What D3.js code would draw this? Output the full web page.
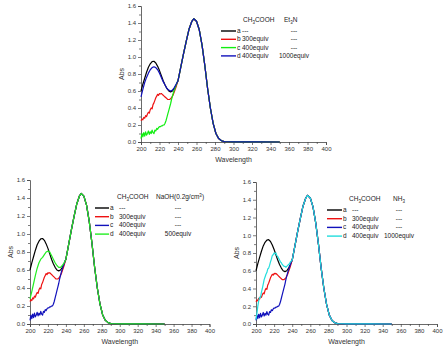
<!DOCTYPE html>
<html>
<head>
<meta charset="utf-8">
<script src="https://cdn.jsdelivr.net/npm/d3@7"></script>
<style>
  body { margin: 0; background: #fff; }
  svg { display: block; font-family: "Liberation Sans", Arial, sans-serif; }
</style>
</head>
<body>
<div id="chart"></div>
<script>
// Wavelength grids (nm)
const wlSmooth = [200, 202, 204, 206, 208, 210, 212, 214, 216, 218, 220, 222, 224, 226, 228, 230, 232, 234, 236, 238];
const wlNoisy = [200, 201, 202, 203, 204, 205, 206, 207, 208, 209, 210, 211, 212, 213, 214, 215, 216, 217, 218, 219,
                 220, 221, 222, 223, 224, 225, 226, 227, 228, 229, 230, 231, 232, 233, 234, 235, 236, 237, 238, 239];

// Main band shared by all spectra (240 nm onwards)
const tailWl = [240, 243, 246, 249, 252, 255, 257, 260, 263, 266, 269, 272, 275, 278, 281, 284, 287, 290, 295, 300, 325, 350];
const tailAbs = [0.72, 0.88, 1.04, 1.19, 1.33, 1.42, 1.45, 1.42, 1.32, 1.14, 0.9, 0.63, 0.4, 0.22, 0.1, 0.04, 0.015, 0.005, 0.003, 0.002, 0.001, 0.0];

// a: no additive
const absA = [0.6, 0.68, 0.75, 0.82, 0.88, 0.92, 0.945, 0.95, 0.93, 0.89, 0.84, 0.78, 0.72, 0.67, 0.63, 0.6, 0.59, 0.6, 0.63, 0.67];
// b: 300equiv CH3COOH
const absB = [0.25, 0.27, 0.26, 0.29, 0.28, 0.31, 0.3, 0.33, 0.35, 0.34, 0.38, 0.4, 0.39, 0.44, 0.46, 0.49, 0.52, 0.54, 0.56, 0.55,
              0.57, 0.565, 0.57, 0.56, 0.55, 0.54, 0.53, 0.52, 0.51, 0.5, 0.5, 0.5, 0.51, 0.52, 0.54, 0.56, 0.59, 0.62, 0.65, 0.69];
// c: 400equiv CH3COOH
const absC = [0.04, 0.1, 0.06, 0.11, 0.07, 0.12, 0.08, 0.1, 0.13, 0.09, 0.12, 0.1, 0.14, 0.11, 0.1, 0.14, 0.13, 0.16, 0.15, 0.17,
              0.18, 0.18, 0.19, 0.19, 0.2, 0.2, 0.22, 0.25, 0.29, 0.33, 0.37, 0.41, 0.45, 0.5, 0.54, 0.58, 0.61, 0.64, 0.67, 0.7];
// d: 400equiv CH3COOH + base
const absDEt3N = [0.53, 0.62, 0.7, 0.76, 0.81, 0.85, 0.875, 0.885, 0.875, 0.85, 0.81, 0.76, 0.71, 0.67, 0.63, 0.61, 0.6, 0.61, 0.64, 0.68];
const absDNaOH = [0.28, 0.36, 0.45, 0.54, 0.62, 0.68, 0.72, 0.74, 0.77, 0.8, 0.81, 0.8, 0.76, 0.72, 0.68, 0.65, 0.63, 0.63, 0.65, 0.68];
const absDNH3 = [0.05, 0.12, 0.2, 0.26, 0.3, 0.3, 0.36, 0.4, 0.45, 0.5, 0.53, 0.56, 0.58, 0.62, 0.63, 0.66, 0.7, 0.73, 0.77, 0.78,
                 0.8, 0.79, 0.8, 0.77, 0.76, 0.74, 0.72, 0.7, 0.69, 0.67, 0.66, 0.65, 0.65, 0.64, 0.65, 0.66, 0.67, 0.68, 0.7, 0.71];

// Axis ticks
const xMajor = [200, 220, 240, 260, 280, 300, 320, 340, 360, 380, 400];
const xMinor = [210, 230, 250, 270, 290, 310, 330, 350, 370, 390];
const yMajor = [0, 0.2, 0.4, 0.6, 0.8, 1.0, 1.2, 1.4, 1.6];
const yMinor = [0.1, 0.3, 0.5, 0.7, 0.9, 1.1, 1.3, 1.5];

// Legend texts
const legendLetters = ['a', 'b', 'c', 'd'];
const legendAcid = ['---', '300equiv', '400equiv', '400equiv'];
const legendEt3N = ['---', '---', '---', '1000equiv'];
const legendNaOH = ['---', '---', '---', '500equiv'];
const legendNH3 = ['---', '---', '---', '1000equiv'];

const width = 445;
const height = 349;

const svg = d3.select('#chart')
  .append('svg')
  .attr('width', width)
  .attr('height', height);

function series(wl, abs) {
  const pts = wl.map((w, i) => [w, abs[i]]);
  return pts.concat(tailWl.map((w, i) => [w, tailAbs[i]]));
}

function drawPanel(p) {
  const x = d3.scaleLinear().domain([200, 400]).range([p.left, p.right]);
  const y = d3.scaleLinear().domain([0, 1.6]).range([p.bottom, p.top]);
  const g = svg.append('g');

  // axes
  const xAxis = g.append('g')
    .attr('transform', `translate(0,${p.bottom})`)
    .call(d3.axisBottom(x).tickValues(xMajor).tickSize(3).tickPadding(2).tickFormat(d3.format('d')));
  g.append('g')
    .attr('transform', `translate(0,${p.bottom})`)
    .call(d3.axisBottom(x).tickValues(xMinor).tickSize(2).tickFormat(''))
    .select('.domain').remove();
  const yAxis = g.append('g')
    .attr('transform', `translate(${p.left},0)`)
    .call(d3.axisLeft(y).tickValues(yMajor).tickSize(3).tickPadding(2).tickFormat(d3.format('.1f')));
  g.append('g')
    .attr('transform', `translate(${p.left},0)`)
    .call(d3.axisLeft(y).tickValues(yMinor).tickSize(2).tickFormat(''))
    .select('.domain').remove();

  g.selectAll('.domain').attr('stroke', '#444').attr('stroke-width', 0.8);
  g.selectAll('.tick line').attr('stroke', '#444').attr('stroke-width', 0.7);
  g.selectAll('.tick text').attr('font-size', 6).attr('fill', '#333');

  // axis titles
  g.append('text')
    .attr('x', (p.left + p.right) / 2)
    .attr('y', p.bottom + 20)
    .attr('text-anchor', 'middle')
    .attr('font-size', 7)
    .attr('fill', '#333')
    .text('Wavelength');
  g.append('text')
    .attr('transform', `translate(${p.left - 17},${(p.top + p.bottom) / 2}) rotate(-90)`)
    .attr('text-anchor', 'middle')
    .attr('font-size', 7)
    .attr('fill', '#333')
    .text('Abs');

  // spectra
  const line = d3.line().x(d => x(d[0])).y(d => y(d[1]));
  p.lines.forEach(s => {
    g.append('path')
      .datum(s.data)
      .attr('fill', 'none')
      .attr('stroke', s.color)
      .attr('stroke-width', 1.2)
      .attr('stroke-linejoin', 'round')
      .attr('d', line);
  });

  // legend
  const L = p.legend;
  const header = g.append('text')
    .attr('x', L.h1)
    .attr('y', L.hy)
    .attr('font-size', 6.5)
    .attr('fill', '#222');
  header.append('tspan').text('CH');
  header.append('tspan').attr('font-size', 4.5).attr('dy', 1.5).text('3');
  header.append('tspan').attr('dy', -1.5).text('COOH');

  const h2 = g.append('text')
    .attr('x', L.h2)
    .attr('y', L.hy)
    .attr('font-size', 6.5)
    .attr('fill', '#222');
  L.h2parts.forEach(part => {
    const t = h2.append('tspan').text(part.t);
    if (part.sub) t.attr('font-size', 4.5).attr('dy', 1.5);
    if (part.sup) t.attr('font-size', 4.5).attr('dy', -2.5);
    if (part.back) t.attr('dy', part.back);
  });

  legendLetters.forEach((letter, i) => {
    const yy = L.ry + i * L.dy;
    g.append('line')
      .attr('x1', L.lx0).attr('x2', L.lx1)
      .attr('y1', yy - 2).attr('y2', yy - 2)
      .attr('stroke', p.lines[L.order[i]].color)
      .attr('stroke-width', 1.4);
    g.append('text')
      .attr('x', L.lx1 + 1).attr('y', yy)
      .attr('font-size', 6.5).attr('fill', '#222')
      .text(letter);
    g.append('text')
      .attr('x', L.c1).attr('y', yy)
      .attr('font-size', 6.5).attr('fill', '#222')
      .text(legendAcid[i]);
    g.append('text')
      .attr('x', L.c2).attr('y', yy)
      .attr('text-anchor', 'middle')
      .attr('font-size', 6.5).attr('fill', '#222')
      .text(L.col2[i]);
  });
}

// Top: Et3N
drawPanel({
  left: 141, right: 326, top: 6, bottom: 142,
  lines: [
    { color: '#000000', data: series(wlSmooth, absA) },
    { color: '#ee1111', data: series(wlNoisy, absB) },
    { color: '#11ee11', data: series(wlNoisy, absC) },
    { color: '#1111bb', data: series(wlSmooth, absDEt3N) }
  ],
  legend: {
    h1: 243, h2: 284, hy: 22, ry: 33, dy: 8.3, lx0: 221, lx1: 236, c1: 242, c2: 294,
    order: [0, 1, 2, 3], col2: legendEt3N,
    h2parts: [{ t: 'Et' }, { t: '3', sub: true }, { t: 'N', back: -1.5 }]
  }
});

// Bottom left: NaOH
drawPanel({
  left: 30, right: 209.5, top: 180, bottom: 324,
  lines: [
    { color: '#000000', data: series(wlSmooth, absA) },
    { color: '#ee1111', data: series(wlNoisy, absB) },
    { color: '#1111bb', data: series(wlNoisy, absC) },
    { color: '#22ee22', data: series(wlSmooth, absDNaOH) }
  ],
  legend: {
    h1: 117, h2: 156, hy: 199, ry: 210, dy: 8.7, lx0: 95, lx1: 109, c1: 119, c2: 178,
    order: [0, 1, 2, 3], col2: legendNaOH,
    h2parts: [{ t: 'NaOH(0.2g/cm' }, { t: '3', sup: true }, { t: ')', back: 2.5 }]
  }
});

// Bottom right: NH3
drawPanel({
  left: 256, right: 437, top: 182, bottom: 324,
  lines: [
    { color: '#000000', data: series(wlSmooth, absA) },
    { color: '#ee1111', data: series(wlNoisy, absB) },
    { color: '#1111bb', data: series(wlNoisy, absC) },
    { color: '#22dddd', data: series(wlNoisy, absDNH3) }
  ],
  legend: {
    h1: 349, h2: 393, hy: 201, ry: 212, dy: 8.7, lx0: 327, lx1: 342, c1: 352, c2: 399,
    order: [0, 1, 2, 3], col2: legendNH3,
    h2parts: [{ t: 'NH' }, { t: '3', sub: true }]
  }
});
</script>
</body>
</html>
